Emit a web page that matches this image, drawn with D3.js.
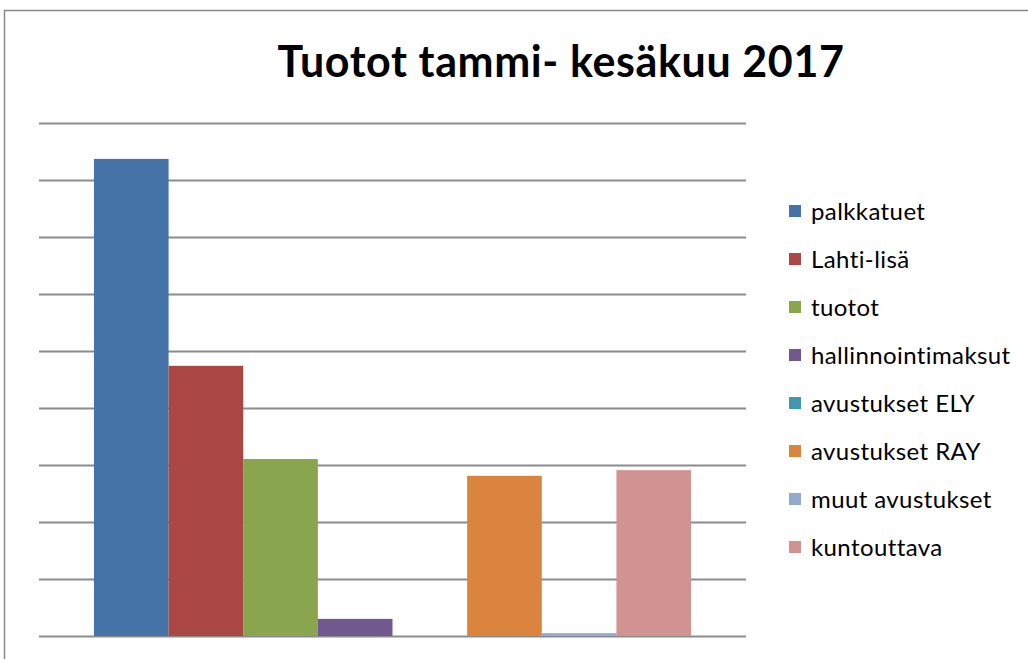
<!DOCTYPE html>
<html>
<head>
<meta charset="utf-8">
<script src="https://cdn.jsdelivr.net/npm/d3@7.9.0/dist/d3.min.js"></script>
<style>
  body { margin: 0; background: #fff; }
  svg { display: block; }
  text { font-variant-ligatures: none; }
</style>
</head>
<body>
<div id="chart"></div>
<script>
// Data (no axis labels shown, units estimated)
const title = 'Tuotot tammi- kesäkuu 2017';
const category = ['tammi-kesäkuu'];
const seriesNames = ['palkkatuet', 'Lahti-lisä', 'tuotot', 'hallinnointimaksut',
  'avustukset ELY', 'avustukset RAY', 'muut avustukset', 'kuntouttava'];
const seriesValues = [83700, 47400, 31050, 3000, 0, 28100, 500, 29100];
const gridTicks = [0, 10000, 20000, 30000, 40000, 50000, 60000, 70000, 80000, 90000];
const colors = ['#4572a7', '#aa4643', '#89a54e', '#71588f', '#4198af', '#db843d', '#93a9cf', '#d19392'];

const width = 1028;
const height = 659;
const plot = { left: 39, right: 746, top: 123, bottom: 636 };

const svg = d3.select('#chart')
  .append('svg')
  .attr('width', width)
  .attr('height', height);

// chart frame (cropped at right and bottom)
svg.append('rect')
  .attr('x', 4.5)
  .attr('y', 10.5)
  .attr('width', 1100)
  .attr('height', 700)
  .attr('fill', '#fff')
  .attr('stroke', '#8a8a8a')
  .attr('stroke-width', 1.5);

// title
svg.append('text')
  .attr('x', 561)
  .attr('y', 77)
  .attr('text-anchor', 'middle')
  .style('font-family', 'Lato, "Open Sans", sans-serif')
  .style('font-weight', 'bold')
  .style('font-size', '43px')
  .style('letter-spacing', '0.6px')
  .text(title);

const y = d3.scaleLinear()
  .domain([0, 90000])
  .range([plot.bottom, plot.top]);

const x0 = d3.scaleBand()
  .domain(category)
  .range([plot.left, plot.right])
  .paddingInner(0)
  .paddingOuter(0.092);

const x1 = d3.scaleBand()
  .domain(seriesNames)
  .range([0, x0.bandwidth()]);

const color = d3.scaleOrdinal().domain(seriesNames).range(colors);

// horizontal gridlines, no labels
const grid = svg.append('g')
  .attr('transform', `translate(${plot.left}, 0)`)
  .call(d3.axisLeft(y)
    .tickValues(gridTicks)
    .tickFormat('')
    .tickSize(-(plot.right - plot.left)));
grid.select('.domain').remove();
grid.selectAll('line')
  .attr('stroke', '#8c8c8c')
  .attr('stroke-width', 2);

// bars
const rows = seriesNames.map((name, i) => ({ name, value: seriesValues[i] }));
svg.append('g')
  .selectAll('rect')
  .data(rows)
  .join('rect')
  .attr('x', d => x0(category[0]) + x1(d.name))
  .attr('y', d => y(d.value))
  .attr('width', x1.bandwidth())
  .attr('height', d => y(0) - y(d.value))
  .attr('fill', d => color(d.name));

// legend
const legend = svg.append('g')
  .attr('transform', 'translate(789, 211)');
const item = legend.selectAll('g')
  .data(seriesNames)
  .join('g')
  .attr('transform', (d, i) => `translate(0, ${i * 48})`);
item.append('rect')
  .attr('x', 0)
  .attr('y', -6)
  .attr('width', 12)
  .attr('height', 12)
  .attr('fill', d => color(d));
item.append('text')
  .attr('x', 22)
  .attr('y', 0)
  .attr('dy', '0.36em')
  .style('font-family', 'Lato, "Open Sans", sans-serif')
  .style('font-size', '24px')
  .style('letter-spacing', '0.4px')
  .attr('fill', '#000')
  .text(d => d);
</script>
</body>
</html>
